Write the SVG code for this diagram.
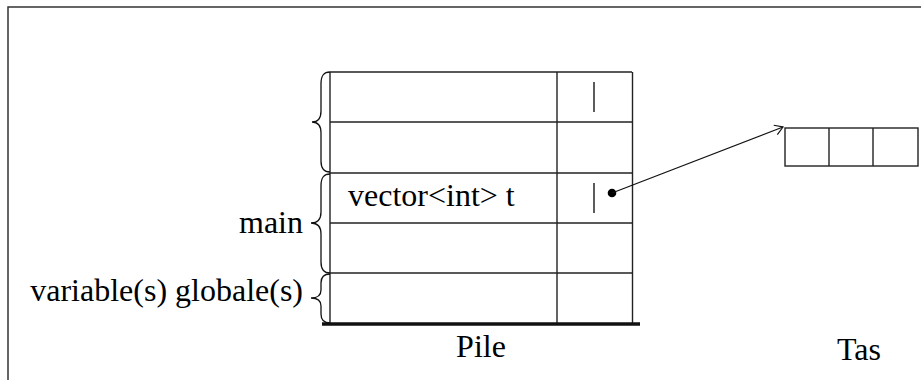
<svg xmlns="http://www.w3.org/2000/svg" width="921" height="380" viewBox="0 0 921 380">
<defs>
<style>
.ln{stroke:#222;stroke-width:1.4;fill:none}
.br{stroke:#111;stroke-width:1.3;fill:none}
.t{font-family:"Liberation Serif","Times New Roman",serif;font-size:32px;fill:#000}
</style>
<marker id="ah" markerWidth="12" markerHeight="12" refX="10" refY="6" orient="auto" markerUnits="userSpaceOnUse">
<path d="M2,1 L10,6 L2,11" fill="none" stroke="#111" stroke-width="1.2"/>
</marker>
</defs>
<rect width="921" height="380" fill="#fff"/>
<g id="frame">
<path d="M8,380 L8,7 L921,7" stroke="#333" stroke-width="1.5" fill="none"/>
</g>
<g id="pile">
<line class="ln" x1="330" y1="72" x2="632" y2="72"/>
<line class="ln" x1="330" y1="122" x2="632" y2="122"/>
<line class="ln" x1="330" y1="173" x2="632" y2="173"/>
<line class="ln" x1="330" y1="223" x2="632" y2="223"/>
<line class="ln" x1="330" y1="273" x2="632" y2="273"/>
<line class="ln" x1="330" y1="72" x2="330" y2="324"/>
<line class="ln" x1="557" y1="72" x2="557" y2="324"/>
<line class="ln" x1="632.5" y1="72" x2="632.5" y2="324" stroke="#444"/>
<line x1="322" y1="324" x2="640" y2="324" stroke="#111" stroke-width="3.5"/>
<line x1="594" y1="82" x2="594" y2="112" stroke="#333" stroke-width="1.6"/>
<line x1="594" y1="183" x2="594" y2="213" stroke="#333" stroke-width="1.6"/>
<text class="t" x="348" y="206">vector&lt;int&gt; t</text>
<text class="t" x="481" y="357" text-anchor="middle">Pile</text>
</g>
<g id="brace-top">
<path class="br" d="M330,72 C324,72 321,75 321,84 L321,111 C321,118 318,122 312,122 C318,122 321,126 321,133 L321,161 C321,169 324,172 330,172"/>
</g>
<g id="brace-main">
<path class="br" d="M330,174 C324,174 321,177 321,186 L321,212 C321,219 318,223 311,223 C318,223 321,227 321,234 L321,262 C321,270 324,273 330,273"/>
<text class="t" x="303" y="233" text-anchor="end">main</text>
</g>
<g id="brace-globals">
<path class="br" d="M330,274 C324,274 321,277 321,283 L321,290 C321,295 318,298 311,298 C318,298 321,301 321,306 L321,314 C321,320 324,323 330,323"/>
<text class="t" x="303" y="301" text-anchor="end">variable(s) globale(s)</text>
</g>
<g id="tas">
<rect x="785" y="128" width="133" height="38" class="ln"/>
<line class="ln" x1="829" y1="128" x2="829" y2="166"/>
<line class="ln" x1="873" y1="128" x2="873" y2="166"/>
<text class="t" x="859" y="360" text-anchor="middle">Tas</text>
</g>
<g id="connectors">
<circle cx="612" cy="193" r="4.3" fill="#000"/>
<line x1="612" y1="193" x2="783" y2="127" stroke="#111" stroke-width="1.2" marker-end="url(#ah)"/>
</g>
</svg>
